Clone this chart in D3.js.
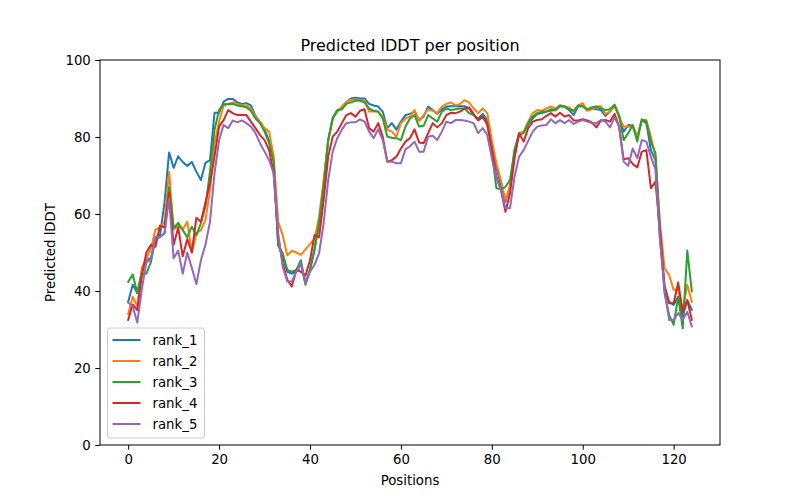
<!DOCTYPE html>
<html>
<head>
<meta charset="utf-8">
<script src="https://cdnjs.cloudflare.com/ajax/libs/d3/7.8.5/d3.min.js"></script>
<style>
body { margin: 0; background: #fff; }
text { font-family: "DejaVu Sans", sans-serif; fill: #000; }
</style>
</head>
<body>
<div id="chart"></div>
<script>
// predicted lDDT per residue position, one array per model rank
var rank1 = [37.2, 41.6, 39.5, 45, 48, 48.5, 54, 54.5, 63, 76,
	72, 75, 73.5, 72.5, 73.5, 71, 68.8, 73.3, 74, 86.3,
	86.3, 89.2, 89.9, 89.9, 89, 88.6, 88.8, 88.2, 85.5, 83.8,
	82, 79, 74, 52, 49, 45, 44.5, 45, 47, 42,
	45.5, 51, 58, 68, 79, 85, 87, 87.5, 89, 90, 90.2, 90, 90,
	88.6, 88.2, 87.9, 86.6, 82.3, 83.6, 81.9, 84, 85.7, 86, 86.6, 84.4,
	85.3, 87.9, 87, 86, 87.2, 87.9, 88, 88, 88, 88, 87.4, 85.7, 84.8, 86, 84.4,
	77.5, 72.3, 67.5, 63.2, 67.2, 76.6, 81, 81.2, 83.4,
	84.8, 86, 86.2, 86.6, 87.2, 87, 88, 87.9, 87, 85.7, 87.9, 88.2, 87, 87.4, 87.2, 87, 85.5, 86.6, 88, 85.3, 81.4, 83.1, 82.9,
	80, 84.4, 83.6, 76.6, 74, 53.3, 41.2, 37.2, 36.4, 38.5, 33.4, 37.6, 35.1];
var rank2 = [34, 38.5, 36, 46, 48.5, 51, 56, 56.5, 58, 71,
	56, 57, 56, 58, 50, 55, 55.8, 58.5, 66, 78.4,
	84, 88.2, 88.6, 89, 88.6, 88.2, 88.2, 87.4, 85.3, 84,
	82.3, 81.4, 75, 58, 54.5, 49.2, 50.5, 50, 49.4, 50.8,
	52.2, 53.5, 59.3, 68.8, 79.2, 84.8, 86.6, 87.9, 89.2, 89.6, 89.8, 89.6, 89.6,
	86.6, 86.6, 86.6, 85.3, 81.9, 81.4, 80.1, 83.6, 84.8, 85.3, 87, 84.2,
	85.7, 87.2, 86.8, 86.2, 87.9, 88.6, 89, 88.2, 88.6, 89.6, 89, 87.4, 86.2, 87.4, 86.2,
	79.2, 73.2, 68.8, 63.6, 67.2, 74.9, 81, 81.4, 84,
	86.2, 87, 86.8, 87.4, 87.9, 87.4, 88.2, 88, 87.7, 86.6, 88.2, 88.8, 86.8, 87.2, 87.9, 88, 86, 86.6, 88.2, 85.3, 82.7, 82.7, 82.5,
	80.1, 84.4, 84.4, 80.1, 74.9, 57.6, 45.9, 44.2, 40.3, 40.3, 35.1, 41.6, 37.2];
var rank3 = [42.4, 44.3, 39.5, 44.5, 44.5, 47.5, 53.5, 54, 55, 67,
	56.3, 57.7, 55.8, 54, 56.7, 54.5, 57.6, 62, 71, 81.9,
	87, 88.6, 88.5, 88.6, 88.2, 88, 87.7, 86.8, 84.8, 83.6,
	81.4, 78.4, 73.6, 51.9, 49.8, 45.5, 45, 45.5, 48, 41.6,
	45.5, 50.6, 57.6, 67.2, 79.2, 84.8, 86.8, 87.2, 88.6, 89, 89.4, 89.4, 89,
	87.4, 86.8, 86.6, 84.8, 80.1, 79.8, 79.7, 79.2, 82.7, 84.8, 85.7, 82.7,
	82.9, 85.7, 84.8, 84, 86.6, 87.4, 87, 87.2, 87.4, 87.4, 86.2, 85.7, 84.4, 85.3, 83.6,
	76.2, 66.7, 66.5, 67, 68.8, 76.6, 80.5, 81, 83.6,
	85.3, 86.2, 86.6, 86.6, 86.8, 87, 88.2, 87.9, 87.2, 86.8, 88.2, 87.9, 87.2, 87.7, 87.9, 87.4, 87, 87.2, 88.4, 85.7, 79.2, 81, 83.1,
	78.8, 84.6, 84, 78.8, 75.8, 55.8, 39.4, 33.8, 31.2, 38.5, 30.3, 50.5, 39.9];
var rank4 = [32.5, 36.5, 35, 44, 50, 52, 51.5, 57, 56.5, 65.5,
	52, 56.5, 49, 53.5, 50, 59, 58, 63, 68, 75,
	82.7, 84.4, 87, 86.2, 85.7, 85.7, 85.7, 84, 82.3, 80.5,
	79.2, 76.6, 70.6, 54, 47.2, 42.9, 41.2, 45.5, 45, 44,
	48, 54.5, 54, 63.6, 74.9, 80.1, 81.4, 83.6, 85.7, 86.2, 85.3, 86.8, 87.2,
	82.3, 81.4, 83.6, 80.1, 73.6, 74, 74.9, 77, 78.8, 79.7, 82, 78.6,
	78.4, 81, 83.6, 82.5, 83.6, 85.7, 86.3, 86.2, 86.6, 87.4, 87.7, 86, 84.3, 85.3, 83.1,
	77, 69.7, 66.3, 60.6, 65.3, 74.5, 81, 78.8, 82.3,
	84, 84.4, 84.6, 85.5, 86.2, 85.3, 86.3, 85.3, 85.7, 84.3, 84.3, 84.6, 84.3, 83.8, 82.5, 84.3, 84.4, 84, 86, 82.7, 74.2, 74.5, 73,
	72.1, 76.2, 76.6, 66.7, 68.4, 55.8, 41.2, 36.8, 36.8, 42.2, 34.6, 37.6, 32.5];
var rank5 = [37, 36, 31.8, 40.5, 47.5, 48, 54, 54, 55, 64,
	48.5, 50.5, 44.5, 50, 46, 41.8, 48, 52, 58, 70.6,
	79.2, 83.1, 82.3, 84.3, 83.8, 84.3, 83.6, 82.7, 81, 78.4,
	76.2, 74, 70.6, 55, 46.3, 42.5, 42.5, 45, 47.2, 42,
	45, 46.8, 49.8, 57.6, 68.8, 76.2, 79.7, 81.9, 83.6, 83.8, 83.8, 84.6, 84,
	81.4, 79.7, 82, 79.2, 73.6, 73.6, 73.2, 73.2, 76.8, 77.6, 78.8, 76.2,
	76.2, 80.1, 80.3, 79.2, 81.4, 84, 83.6, 84.4, 84.4, 84.3, 84, 83.6, 81, 82.3, 80.5,
	74.5, 69.3, 66.3, 61.5, 61.5, 69.7, 74.9, 76.6, 79,
	81.4, 82.7, 83, 83.1, 84.6, 83.6, 84.4, 83.6, 84.4, 83.4, 84, 84.4, 84, 83.6, 83.6, 84.4, 84, 82.5, 85.1, 82.7, 73.6, 72.5, 77,
	74.5, 79.2, 78.8, 74.9, 71.5, 53.3, 40.3, 32.5, 32.5, 34.3, 32.5, 34.6, 30.8];

var seriesNames = ["rank_1", "rank_2", "rank_3", "rank_4", "rank_5"];
var seriesValues = [rank1, rank2, rank3, rank4, rank5];
var colors = ["#1f77b4", "#ff7f0e", "#2ca02c", "#d62728", "#9467bd"];
var xTicks = [0, 20, 40, 60, 80, 100, 120];
var yTicks = [0, 20, 40, 60, 80, 100];

var W = 800, H = 500;
var margin = {top: 60, right: 80, bottom: 55, left: 100};
var width = W - margin.left - margin.right;
var height = H - margin.top - margin.bottom;

var svg = d3.select("#chart").append("svg")
	.attr("width", W)
	.attr("height", H);

var g = svg.append("g")
	.attr("transform", "translate(" + margin.left + "," + margin.top + ")");

var n = rank1.length - 1;
var x = d3.scaleLinear()
	.domain([-0.05 * n, 1.05 * n])
	.range([0, width]);
var y = d3.scaleLinear()
	.domain([0, 100])
	.range([height, 0]);

// axes
var xAxis = g.append("g")
	.attr("transform", "translate(0," + height + ")")
	.call(d3.axisBottom(x).tickValues(xTicks).tickSize(4.7).tickPadding(4.5));
var yAxis = g.append("g")
	.call(d3.axisLeft(y).tickValues(yTicks).tickSize(4.7).tickPadding(4.5));
[xAxis, yAxis].forEach(function(a) {
	a.select(".domain").remove();
	a.selectAll("line").attr("stroke", "#000").attr("stroke-width", 1);
	a.selectAll("text").style("font-size", "13.3px").style("font-family", "DejaVu Sans");
});

// lines
var line = d3.line()
	.x(function(d, i) { return x(i); })
	.y(function(d) { return y(d); });

g.append("g").selectAll("path")
	.data(seriesValues)
	.enter()
	.append("path")
	.attr("d", line)
	.attr("fill", "none")
	.attr("stroke", function(d, i) { return colors[i]; })
	.attr("stroke-width", 2)
	.attr("stroke-linejoin", "round")
	.attr("stroke-linecap", "square");

// frame
g.append("rect")
	.attr("width", width)
	.attr("height", height)
	.attr("fill", "none")
	.attr("stroke", "#000")
	.attr("stroke-width", 1);

// labels
svg.append("text")
	.attr("x", margin.left + width / 2)
	.attr("y", 51)
	.attr("text-anchor", "middle")
	.style("font-size", "16px")
	.text("Predicted lDDT per position");
svg.append("text")
	.attr("x", margin.left + width / 2)
	.attr("y", 485)
	.attr("text-anchor", "middle")
	.style("font-size", "13.3px")
	.text("Positions");
svg.append("text")
	.attr("transform", "translate(55," + (margin.top + height / 2) + ") rotate(-90)")
	.attr("text-anchor", "middle")
	.style("font-size", "13.3px")
	.text("Predicted lDDT");

// legend
var legend = g.append("g")
	.attr("transform", "translate(7.5," + (height - 117) + ")");
legend.append("rect")
	.attr("width", 97)
	.attr("height", 110)
	.attr("rx", 3)
	.attr("fill", "#fff")
	.attr("fill-opacity", 0.8)
	.attr("stroke", "#cccccc")
	.attr("stroke-width", 1);
var item = legend.selectAll(".item")
	.data(seriesNames)
	.enter()
	.append("g")
	.attr("class", "item")
	.attr("transform", function(d, i) { return "translate(0," + (12 + i * 21) + ")"; });
item.append("line")
	.attr("x1", 5)
	.attr("x2", 33)
	.attr("stroke", function(d, i) { return colors[i]; })
	.attr("stroke-width", 2);
item.append("text")
	.attr("x", 45)
	.attr("dy", "0.35em")
	.style("font-size", "13.3px")
	.text(function(d) { return d; });
</script>
</body>
</html>
